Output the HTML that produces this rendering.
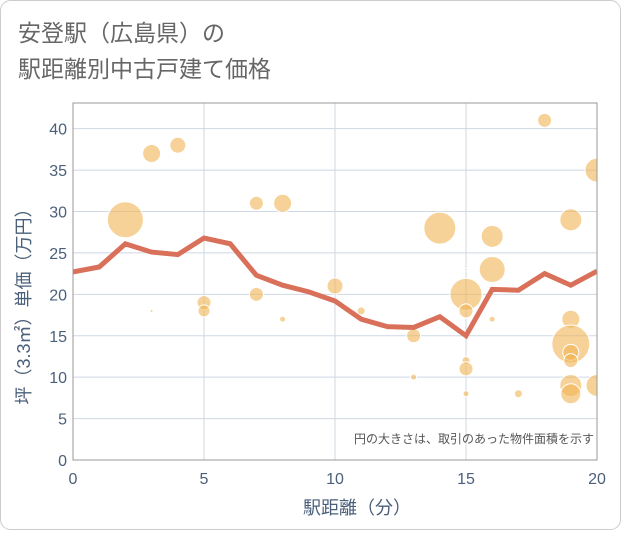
<!DOCTYPE html>
<html><head><meta charset="utf-8"><style>
body{margin:0;background:#fff;font-family:"Liberation Sans","Noto Sans CJK JP",sans-serif;}
#wrap{position:relative;width:621px;height:530px;}
</style></head><body>
<div id="wrap">
<svg id="chart" width="621" height="530" xmlns="http://www.w3.org/2000/svg">
<defs><clipPath id="plotclip"><rect x="73" y="103" width="524" height="357"/></clipPath></defs>
<rect x="0.5" y="0.5" width="620" height="529" rx="10" fill="#fff" stroke="#ccc"/>
<text x="18" y="41" font-size="23" fill="#666">安登駅（広島県）の</text>
<text x="18" y="77" font-size="23" fill="#666">駅距離別中古戸建て価格</text>
<g id="grid"></g>
<g id="bubbles" clip-path="url(#plotclip)"></g>
<g id="line" clip-path="url(#plotclip)"></g>
<g id="axes"></g>
<text x="594" y="443" font-size="12" fill="#555" text-anchor="end">円の大きさは、取引のあった物件面積を示す</text>
<text x="357" y="514" font-size="18" fill="#4a5f7a" text-anchor="middle">駅距離（分）</text>
<text transform="translate(30,302) rotate(-90)" font-size="18" fill="#4a5f7a" text-anchor="middle">坪（3.3㎡）単価（万円）</text>
</svg>
</div>
<script>
const xTicks=[0,5,10,15,20];
const yTicks=[0,5,10,15,20,25,30,35,40];
const lineX=[0,1,2,3,4,5,6,7,8,9,10,11,12,13,14,15,16,17,18,19,20];
const lineY=[22.7,23.3,26.1,25.1,24.8,26.8,26.1,22.3,21.1,20.3,19.2,17.0,16.1,16.0,17.3,15.0,20.6,20.5,22.5,21.1,22.8];
const bubX=[2,3,4,3,5,5,7,7,8,8,10,11,13,13,14,15,15,15,15,15,15,16,16,16,17,18,19,19,19,19,19,19,19,20,20];
const bubY=[29,37,38,18,19,18,31,20,31,17,21,18,15,10,28,23,20,18,12,11,8,27,23,17,8,41,29,17,14,13,12,9,8,35,9];
const bubR=[18,9,8,1.5,7,6,7,7,9,3,8,4,7,3,16,1.2,16,7,4,7,3,11,13,3,4,7,11,9,19,8,7,11,10,12,11];
const NS="http://www.w3.org/2000/svg";
const X0=73,X1=597,Y0=460,Y1=103;
const sx=v=>X0+(v-0)/(20-0)*(X1-X0);
const sy=v=>Y0-(v/43.1)*(Y0-Y1);
function mk(t,a,p){const e=document.createElementNS(NS,t);for(const k in a)e.setAttribute(k,a[k]);p.appendChild(e);return e;}
const grid=document.getElementById('grid'),axes=document.getElementById('axes');
yTicks.forEach(v=>{const l=mk('line',{x1:X0,x2:X1,y1:sy(v),y2:sy(v),stroke:'#cfd8e3','stroke-width':1},grid);

const t=mk('text',{x:X0-6,y:sy(v)+6,'font-size':16,fill:'#4a5f7a','text-anchor':'end'},axes);t.textContent=v;
});
xTicks.forEach(v=>{const l=mk('line',{x1:sx(v),x2:sx(v),y1:Y1,y2:Y0,stroke:'#cfd8e3','stroke-width':1},grid);

const t=mk('text',{x:sx(v),y:Y0+24,'font-size':16,fill:'#4a5f7a','text-anchor':'middle'},axes);t.textContent=v;
});
const fr=mk('rect',{x:X0,y:Y1,width:X1-X0,height:Y0-Y1,fill:'none',stroke:'#999','stroke-width':1},axes);

const bg=document.getElementById('bubbles');
bubX.forEach((x,i)=>{const c=mk('circle',{cx:sx(x),cy:sy(bubY[i]),r:bubR[i],fill:'#f0b454','fill-opacity':0.6,stroke:'#fff','stroke-width':1},bg);
});
const pts=lineX.map((x,i)=>sx(x)+','+sy(lineY[i])).join(' ');
const pl=mk('polyline',{points:pts,fill:'none',stroke:'#d9705a','stroke-width':5,'stroke-linejoin':'miter'},document.getElementById('line'));

</script>
</body></html>
